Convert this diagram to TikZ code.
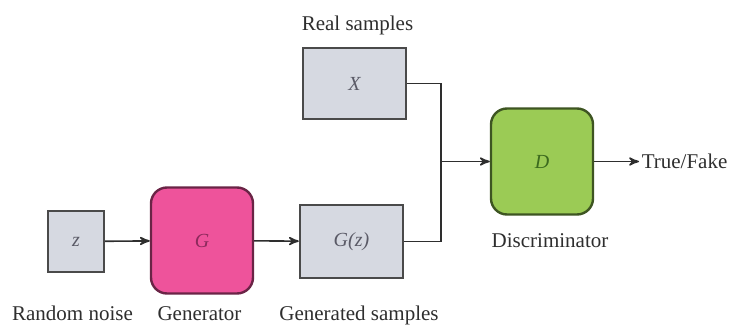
\documentclass[tikz,border=0pt]{standalone}
\usepackage{fontspec}
\setmainfont{LiberationSerif}[Extension=.ttf, UprightFont=*-Regular,
    ItalicFont=*-Italic, BoldFont=*-Bold]
\usetikzlibrary{arrows,positioning}

\definecolor{boxgray}{HTML}{D6D9E1}
\definecolor{edgegray}{HTML}{4A4A4A}
\definecolor{lettergray}{HTML}{5A5A66}
\definecolor{txtgray}{HTML}{2E2E2E}
\definecolor{genpink}{HTML}{EE539B}
\definecolor{genedge}{HTML}{6A2446}
\definecolor{genletter}{HTML}{8C2A5C}
\definecolor{discgreen}{HTML}{9BCB55}
\definecolor{discedge}{HTML}{3E5522}
\definecolor{discletter}{HTML}{3C6A1E}

\begin{document}
\begin{tikzpicture}[x=0.5pt,y=-0.5pt,>=stealth',line width=0.8pt,draw=txtgray,
    block/.style={draw=edgegray, fill=boxgray, line width=1.2pt, text=lettergray,
                  font=\fontsize{10}{12}\selectfont\itshape},
    net/.style={rounded corners=8pt, line width=1.2pt,
                font=\fontsize{10}{12}\selectfont\itshape,
                minimum width=51pt, minimum height=53pt},
    lbl/.style={font=\fontsize{10.5}{12}\selectfont, text=txtgray, inner sep=0pt}]
    \useasboundingbox (0,0) rectangle (731,325);

    % boxes
    \node[block, minimum width=28pt, minimum height=30.5pt] (z) at (76,241.5) {z};
    \node[net, draw=genedge, fill=genpink, text=genletter] (G) at (202,240.5) {G};
    \node[block, minimum width=51.5pt, minimum height=36.5pt] (Gz) at (351.5,241.5) {G(z)};
    \node[block, minimum width=51.5pt, minimum height=35.5pt] (X) at (354.5,83.5) {X};
    \node[net, draw=discedge, fill=discgreen, text=discletter] (D) at (542,161.5) {D};

    % labels
    \node[lbl, anchor=base] (noise) at (72.5,320) {Random noise};
    \node[lbl, anchor=base] (gen) at (199.5,320) {Generator};
    \node[lbl, anchor=base] (gensmp) at (359,320) {Generated samples};
    \node[lbl, anchor=base] (realsmp) at (357.5,31) {Real samples};
    \node[lbl, anchor=base] (disc) at (550,248) {Discriminator};
    \node[lbl, anchor=west] (tf) at (641,161.5) {True/Fake};

    \coordinate (j) at (441,161.5);

    % connectors
    \draw[->] (z) -- (G);
    \draw[->] (G) -- (Gz);
    \draw (X.east) -| (j);
    \draw (Gz.east) -| (j);
    \draw[->] (j) -- (D);
    \draw[->] (D) -- ([xshift=-1pt]tf.west);
\end{tikzpicture}
\end{document}
